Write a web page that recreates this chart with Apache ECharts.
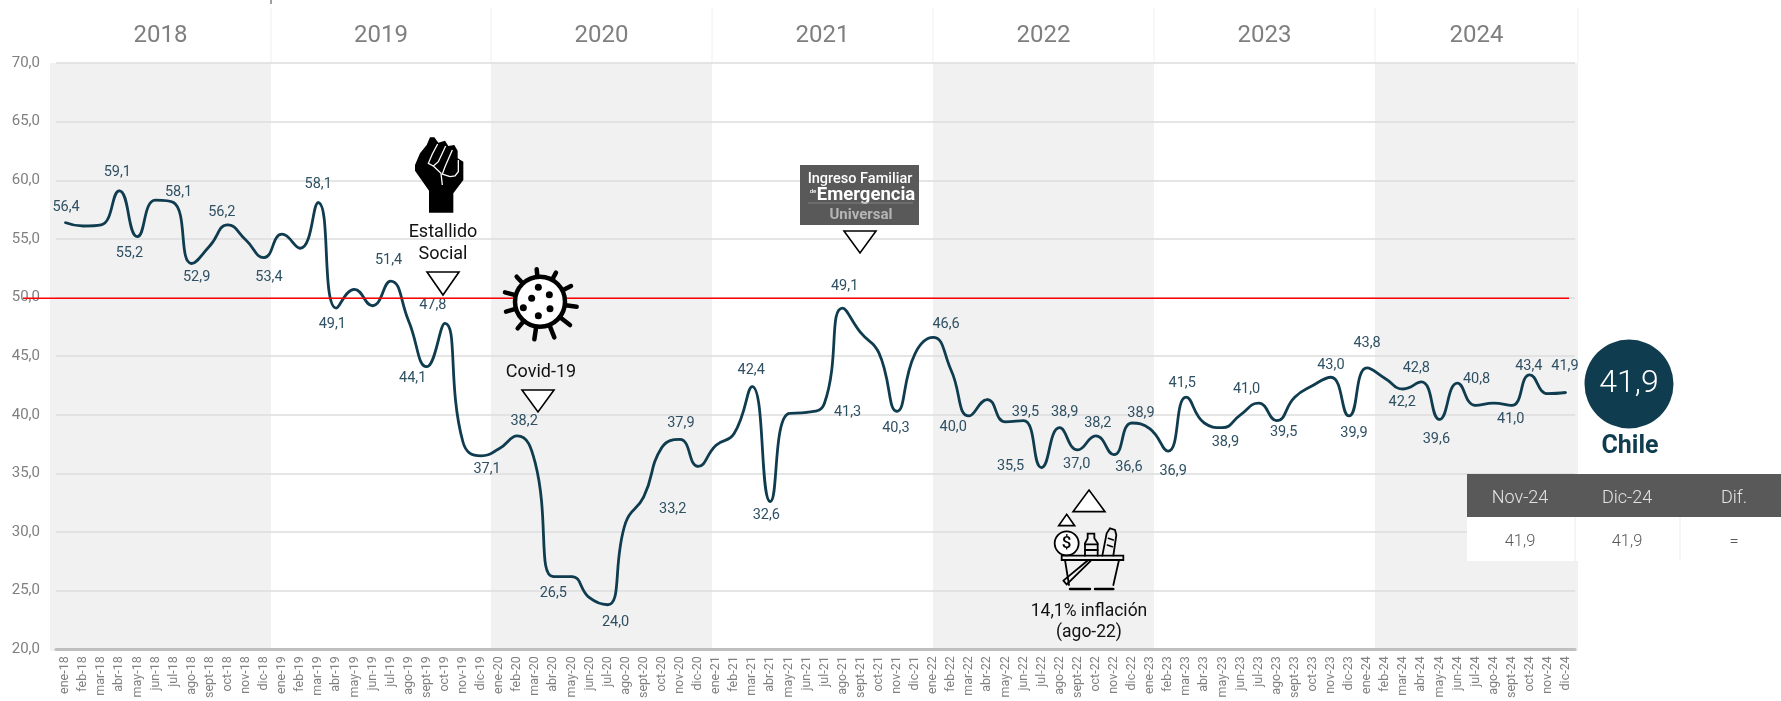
<!DOCTYPE html>
<html><head><meta charset="utf-8">
<style>html,body{margin:0;padding:0;background:#fff;overflow:hidden}#c{width:1781px;height:701px}</style>
<script src="https://cdn.jsdelivr.net/npm/echarts@6/dist/echarts.min.js"></script>
</head><body><div id="c"></div>
<script>
const FONT = 'Roboto, "Noto Sans", sans-serif';
const monthNames = ['ene','feb','mar','abr','may','jun','jul','ago','sept','oct','nov','dic'];
const yearLabels = ['2018','2019','2020','2021','2022','2023','2024'];
const categories = yearLabels.flatMap(y => monthNames.map(m => m + '-' + y.slice(2)));
const values = [
 56.4,56.1,56.2,59.1,55.2,58.3,58.1,52.9,54.4,56.2,54.9,53.4,
 55.4,54.2,58.1,49.1,50.7,49.3,51.4,48.0,44.1,47.8,37.7,36.5,
 37.1,38.2,35.9,26.2,26.2,24.4,23.8,30.8,33.0,37.2,37.9,35.6,
 37.4,38.4,42.4,32.6,40.1,40.2,41.0,49.1,47.0,45.3,40.3,45.2,
 46.6,43.8,39.9,41.3,39.4,39.5,35.5,38.9,37.0,38.2,36.6,39.3,
 38.8,36.9,41.5,39.3,38.9,40.0,41.0,39.5,41.5,42.5,43.2,39.9,
 44.0,43.1,42.2,42.8,39.6,42.7,40.8,41.0,40.8,43.4,41.8,41.9];
const pointLabels = {
 0:'56,4',3:'59,1',4:'55,2',6:'58,1',7:'52,9',9:'56,2',11:'53,4',14:'58,1',15:'49,1',18:'51,4',
 20:'44,1',21:'47,8',24:'37,1',25:'38,2',27:'26,5',30:'24,0',32:'33,2',34:'37,9',38:'42,4',39:'32,6',
 42:'41,3',43:'49,1',46:'40,3',48:'46,6',50:'40,0',53:'39,5',54:'35,5',55:'38,9',56:'37,0',57:'38,2',
 58:'36,6',59:'38,9',61:'36,9',62:'41,5',64:'38,9',66:'41,0',67:'39,5',70:'43,0',71:'39,9',72:'43,8',
 74:'42,2',75:'42,8',76:'39,6',78:'40,8',80:'41,0',81:'43,4',83:'41,9'};
const ruleValue = [[0,50],[1,50]];
const tableHead = ['Nov-24','Dic-24','Dif.'];
const tableRow = ['41,9','41,9','='];
const latestValue = '41,9';
const countryName = 'Chile';

/* label placement relative to its point */
const labelOffsets = {
 0:[1,-15],3:[-2,-18],4:[-8,17],6:[5,-10],7:[5,14],9:[-6,-12],11:[5,20],14:[0,-18],15:[-4,16],18:[-2,-21],
 20:[-14,12],21:[-12,-18],24:[-12,21],25:[7,-15],27:[0,17],30:[8,18],32:[29,13],34:[1,-16],38:[-1,-16],39:[-4,14],
 42:[23,9],43:[2,-22],46:[-1,17],48:[13,-13],50:[-16,11],53:[2,-8],54:[-31,-1],55:[5,-15],56:[-1,14],57:[2,-13],
 58:[15,13],59:[9,-10],61:[5,20],62:[-4,-14],64:[3,15],66:[-12,-14],67:[7,12],70:[0,-12],71:[5,17],72:[0,-25],
 74:[-1,13],75:[-5,-14],76:[-3,20],78:[1,-26],80:[-1,14],81:[-1,-9],83:[-1,-26]};

const NAVY='#103c50', GREY='#7f7f7f', DARK='#595959', BAND='#f1f1f1';
const TOP=63, BOT=651;
const edges=[50,271,491,712,933,1154,1375,1578];

const g=[];
const txt=(x,y,text,size,fill,weight,z)=>g.push({type:'text',x,y,z:z||100,style:{text,fontFamily:FONT,fontSize:size,fontWeight:weight||400,fill,align:'center',verticalAlign:'middle'}});
const tri=(x,y0,y1,hw,z)=>g.push({type:'polygon',z:z||100,shape:{points:[[x-hw,y0],[x+hw,y0],[x,y1]]},style:{fill:'#fff',stroke:'#000',lineWidth:1.6}});
const triUp=(x,y0,y1,hw)=>g.push({type:'polygon',z:100,shape:{points:[[x,y0],[x+hw,y1],[x-hw,y1]]},style:{fill:'#fff',stroke:'#000',lineWidth:1.6}});

/* year bands + header */
yearLabels.forEach((y,i)=>{
  if(i%2===0) g.push({type:'rect',z:-5,shape:{x:edges[i],y:TOP,width:edges[i+1]-edges[i],height:BOT-TOP},style:{fill:BAND}});
  txt((edges[i]+edges[i+1])/2,36,y,24,GREY,400,1);
});
edges.slice(1).forEach(x=>g.push({type:'line',z:-5,shape:{x1:x,y1:8,x2:x,y2:TOP},style:{stroke:'#f0f0f0',lineWidth:1}}));
g.push({type:'line',z:1,shape:{x1:271,y1:0,x2:271,y2:4},style:{stroke:'#404040',lineWidth:1}});

/* fist */
const fx=405, fy=130, s=1/3;
g.push({type:'polygon',z:100,shape:{points:[[72,248],[72,182],[30,122],[30,105],[45,70],[65,45],[75,22],[88,22],[100,38],[120,32],[130,48],[148,45],[158,62],[158,85],[175,95],[175,150],[145,190],[145,248]].map(p=>[fx+p[0]*s,fy+p[1]*s])},style:{fill:'#000'}});
[[[98,42],[82,72],[70,100],[85,108]],[[122,48],[100,95],[85,108],[108,130],[112,165]],[[142,60],[120,110],[112,132],[135,140]],[[160,90],[160,125],[150,138],[135,140]]].forEach(l=>
  g.push({type:'polyline',z:101,shape:{points:l.map(p=>[fx+p[0]*s,fy+p[1]*s])},style:{fill:null,stroke:'#fff',lineWidth:1.3}}));
txt(443,232,'Estallido',18,'#111');
txt(443,254,'Social',18,'#111');
tri(443,272,295,16);

/* virus */
const vx=495, vy=260;
[[125,28],[183,38],[228,78],[245,140],[225,195],[178,232],[118,238],[68,205],[33,155],[30,97],[65,50]].forEach(p=>{
  g.push({type:'line',z:100,shape:{x1:vx+135/3,y1:vy+125/3,x2:vx+p[0]/3,y2:vy+p[1]/3},style:{stroke:'#000',lineWidth:4.5,lineCap:'round'}});
});
g.push({type:'circle',z:101,shape:{cx:vx+135/3,cy:vy+125/3,r:25},style:{fill:'#fff',stroke:'#000',lineWidth:4.5}});
[[130,82],[163,104],[110,115],[85,143],[165,146],[130,167]].forEach(p=>
  g.push({type:'circle',z:102,shape:{cx:vx+p[0]/3,cy:vy+p[1]/3,r:3.5},style:{fill:'#000'}}));
txt(541,372,'Covid-19',18,'#111');
tri(538,390,412,16);

/* logo */
g.push({type:'rect',z:100,shape:{x:800,y:165,width:119,height:60},style:{fill:DARK}});
txt(860,179,'Ingreso Familiar',14.5,'#fff',500,101);
txt(813,191,'de',6,'#fff',500,101);
txt(866,195,'Emergencia',18.5,'#fff',700,101);
g.push({type:'line',z:101,shape:{x1:808,y1:203,x2:913,y2:203},style:{stroke:'#808080',lineWidth:1}});
txt(861,215,'Universal',15,'#b5b5b5',700,101);
tri(860,231,253,16);

/* basket */
const bx=1045, by=485, P=(a,b)=>[bx+a/3,by+b/3];
triUp(bx+132/3,by+15/3,by+80/3,16);
triUp(bx+65/3,by+88/3,by+122/3,8);
const stroke=(pts,w,fill)=>g.push({type:'polyline',z:100,shape:{points:pts.map(p=>P(p[0],p[1]))},style:{fill:fill||null,stroke:'#000',lineWidth:w||1.8,lineCap:'round'}});
g.push({type:'circle',z:100,shape:{cx:bx+65/3,cy:by+175/3,r:12},style:{fill:'#fff',stroke:'#000',lineWidth:1.8}});
txt(bx+65/3,by+176/3,'$',17,'#000',500,101);
stroke([[120,212],[120,175],[128,160],[128,146],[148,146],[148,160],[158,175],[158,212]]);
stroke([[120,178],[158,178]]);stroke([[120,195],[158,195]]);
stroke([[172,212],[185,145],[195,130],[210,135],[214,150],[205,212]]);
stroke([[190,160],[205,165]],1.5);stroke([[187,180],[202,185]],1.5);
stroke([[50,212],[235,212],[235,225],[50,225],[50,212]]);
stroke([[60,225],[72,300]]);stroke([[222,225],[205,300]]);
stroke([[55,287],[130,225],[140,225],[65,298],[55,287]]);
stroke([[75,312],[135,312]],2.4);stroke([[150,312],[205,312]],2.4);
txt(1089,612,'14,1% inflación',17.5,'#111');
txt(1089,633,'(ago-22)',17.5,'#111');

/* right panel */
g.push({type:'circle',z:100,shape:{cx:1629,cy:384,r:44.5},style:{fill:NAVY}});
txt(1629,384,latestValue,32,'#fff',300,101);
txt(1630,447,countryName,25,NAVY,700,101);
g.push({type:'rect',z:100,shape:{x:1467,y:474,width:314,height:43},style:{fill:DARK}});
g.push({type:'rect',z:100,shape:{x:1467,y:517,width:314,height:44},style:{fill:'#fff'}});
[1575,1680].forEach(x=>g.push({type:'line',z:101,shape:{x1:x,y1:517,x2:x,y2:561},style:{stroke:'#f2f2f2',lineWidth:1.5}}));
[1520,1627,1734].forEach((x,i)=>{
  txt(x,498,tableHead[i],18,'#e4e4e4',300,101);
  txt(x,542,tableRow[i],16.5,DARK,300,101);
});

const seriesData=values.map((v,i)=>{
  const text=pointLabels[i];
  if(!text) return {value:v,label:{show:false}};
  const o=labelOffsets[i];
  return {value:v,label:{show:true,formatter:text,position:[1+o[0],1+o[1]],align:'center',verticalAlign:'middle'}};
});

const chart=echarts.init(document.getElementById('c'),null,{renderer:'canvas'});
chart.setOption({
  animation:false,
  textStyle:{fontFamily:FONT},
  grid:[
    {left:56,top:TOP,width:1519,height:BOT-TOP,containLabel:false},
    {left:23,top:TOP,width:1546,height:BOT-TOP}
  ],
  xAxis:[
    {type:'category',gridIndex:0,data:categories,boundaryGap:true,
     axisLine:{lineStyle:{color:'#bfbfbf',width:3}},axisTick:{show:false},
     axisLabel:{interval:0,rotate:90,margin:7,fontSize:12.5,color:GREY,fontFamily:FONT}},
    {type:'value',gridIndex:1,min:0,max:1,show:false}
  ],
  yAxis:[
    {type:'value',gridIndex:0,min:20,max:70,interval:5,
     axisLine:{show:false},axisTick:{show:false},
     splitLine:{lineStyle:{color:'#dcdcdc',width:1.5}},
     axisLabel:{margin:16,fontSize:15,color:GREY,fontFamily:FONT,formatter:v=>v.toFixed(1).replace('.',',')}},
    {type:'value',gridIndex:1,min:20,max:70,show:false}
  ],
  series:[
    {type:'line',name:'Chile',xAxisIndex:0,yAxisIndex:0,data:seriesData,smooth:0.5,
     symbol:'circle',symbolSize:2,showSymbol:true,showAllSymbol:true,
     lineStyle:{color:NAVY,width:2.8},itemStyle:{color:NAVY},
     label:{fontSize:14.5,color:'#2f5063',fontFamily:FONT},z:3},
    {type:'line',name:'rule',xAxisIndex:1,yAxisIndex:1,data:ruleValue,symbol:'none',
     lineStyle:{color:'#ff0000',width:1.6},z:4,silent:true}
  ],
  graphic:{elements:g}
});
</script></body></html>
